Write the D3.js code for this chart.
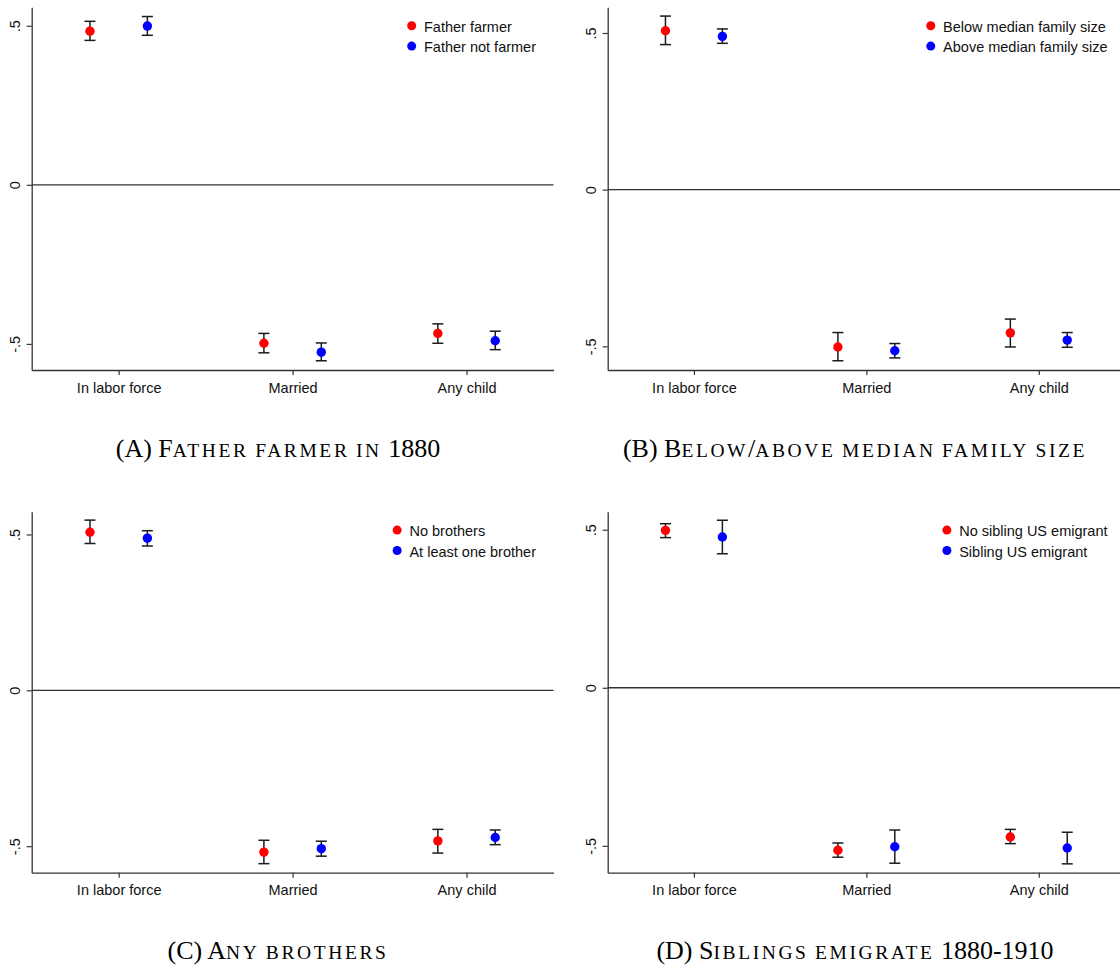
<!DOCTYPE html>
<html>
<head>
<meta charset="utf-8">
<script src="https://cdn.jsdelivr.net/npm/d3@7"></script>
<style>
  html, body { margin: 0; padding: 0; background: #fff; }
  svg { display: block; }
</style>
</head>
<body>
<svg id="fig" width="1120" height="966"></svg>
<script>
// Outcomes on the x axis and the y tick marks
const categories = ["In labor force", "Married", "Any child"];
const yTickValues = [-0.5, 0, 0.5];
const yTickLabels = ["-.5", "0", ".5"];

// Each row: [estimate, lower 95% CI, upper 95% CI] for one outcome
const fatherFarmer    = [[0.483, 0.454, 0.514], [-0.498, -0.528, -0.467], [-0.467, -0.498, -0.437]];
const fatherNotFarmer = [[0.499, 0.470, 0.529], [-0.526, -0.553, -0.497], [-0.490, -0.518, -0.460]];
const belowMedianSize = [[0.507, 0.463, 0.554], [-0.502, -0.546, -0.456], [-0.457, -0.502, -0.413]];
const aboveMedianSize = [[0.489, 0.467, 0.513], [-0.514, -0.537, -0.491], [-0.480, -0.503, -0.456]];
const noBrothers      = [[0.507, 0.471, 0.546], [-0.519, -0.556, -0.481], [-0.483, -0.522, -0.446]];
const anyBrother      = [[0.488, 0.463, 0.512], [-0.508, -0.532, -0.484], [-0.472, -0.495, -0.448]];
const noSiblingUS     = [[0.498, 0.475, 0.519], [-0.514, -0.536, -0.491], [-0.472, -0.493, -0.448]];
const siblingUS       = [[0.477, 0.424, 0.530], [-0.503, -0.555, -0.450], [-0.507, -0.557, -0.457]];

// Legend entries per panel
const legendA = ["Father farmer", "Father not farmer"];
const legendB = ["Below median family size", "Above median family size"];
const legendC = ["No brothers", "At least one brother"];
const legendD = ["No sibling US emigrant", "Sibling US emigrant"];

// Panel captions
const captions = [
  "(A) Father farmer in 1880",
  "(B) Below/above median family size",
  "(C) Any brothers",
  "(D) Siblings emigrate 1880-1910"
];

// y-axis ranges of each panel
const yRangeA = [-0.582, 0.558];
const yRangeB = [-0.5755, 0.582];
const yRangeC = [-0.585, 0.573];
const yRangeD = [-0.585, 0.557];

const seriesColors = ["#ff0000", "#0000ff"];
const axisColor = "#333333";
const barColor = "#1c1c1c";
const sansFont = "'Liberation Sans', Arial, Helvetica, sans-serif";
const serifFont = "'Liberation Serif', 'Times New Roman', Times, serif";

const svg = d3.select("#fig");

const panelDefs = [
  { series: [fatherFarmer, fatherNotFarmer], legend: legendA, yRange: yRangeA, caption: captions[0],
    box: { left: 31.7, right: 553.5, top: 7.3, bottom: 370 }, capX: 278, capY: 457 },
  { series: [belowMedianSize, aboveMedianSize], legend: legendB, yRange: yRangeB, caption: captions[1],
    box: { left: 607.7, right: 1125, top: 7.3, bottom: 370 }, capX: 855, capY: 457 },
  { series: [noBrothers, anyBrother], legend: legendC, yRange: yRangeC, caption: captions[2],
    box: { left: 31.7, right: 553.5, top: 511.7, bottom: 872.7 }, capX: 278, capY: 959 },
  { series: [noSiblingUS, siblingUS], legend: legendD, yRange: yRangeD, caption: captions[3],
    box: { left: 607.7, right: 1125, top: 511.7, bottom: 872.7 }, capX: 855, capY: 959 }
];

function drawPanel(p) {
  const g = svg.append("g");
  const b = p.box;

  const x = d3.scalePoint().domain(categories).range([b.left, b.right]).padding(0.5);
  const y = d3.scaleLinear().domain(p.yRange).range([b.bottom, b.top]);
  const offset = x.step() * 0.165;

  // Reference line at zero
  g.append("line")
    .attr("x1", b.left).attr("x2", b.right)
    .attr("y1", y(0)).attr("y2", y(0))
    .attr("stroke", axisColor).attr("stroke-width", 1.3);

  // y axis
  const yAxis = g.append("g")
    .attr("transform", `translate(${b.left},0)`)
    .call(d3.axisLeft(y)
      .tickValues(yTickValues)
      .tickFormat((d, i) => yTickLabels[i])
      .tickSize(5)
      .tickSizeOuter(0));
  yAxis.select(".domain").attr("stroke", axisColor).attr("stroke-width", 1.3);
  yAxis.selectAll(".tick line").attr("stroke", axisColor).attr("stroke-width", 1.2);
  yAxis.selectAll(".tick text")
    .attr("x", 0).attr("dy", 0)
    .attr("text-anchor", "middle")
    .attr("transform", "translate(-11.5,0) rotate(-90)")
    .attr("font-family", sansFont).attr("font-size", 14.5).attr("fill", "#111");

  // x axis
  const xAxis = g.append("g")
    .attr("transform", `translate(0,${b.bottom})`)
    .call(d3.axisBottom(x).tickSize(5).tickSizeOuter(0));
  xAxis.select(".domain").attr("stroke", axisColor).attr("stroke-width", 1.3);
  xAxis.selectAll(".tick line").attr("stroke", axisColor).attr("stroke-width", 1.2);
  xAxis.selectAll(".tick text")
    .attr("y", 22.5).attr("dy", 0)
    .attr("font-family", sansFont).attr("font-size", 14.5).attr("fill", "#111");

  // Confidence intervals (capped spikes) and point estimates
  p.series.forEach((rows, j) => {
    const dx = j === 0 ? -offset : offset;
    const pts = rows.map((r, i) => ({ cx: x(categories[i]) + dx, est: r[0], lo: r[1], hi: r[2] }));
    const bars = g.append("g").attr("stroke", barColor).attr("stroke-width", 1.5).attr("fill", "none");
    pts.forEach(d => {
      bars.append("line").attr("x1", d.cx).attr("x2", d.cx).attr("y1", y(d.lo)).attr("y2", y(d.hi));
      bars.append("line").attr("x1", d.cx - 5.5).attr("x2", d.cx + 5.5).attr("y1", y(d.lo)).attr("y2", y(d.lo));
      bars.append("line").attr("x1", d.cx - 5.5).attr("x2", d.cx + 5.5).attr("y1", y(d.hi)).attr("y2", y(d.hi));
    });
    g.append("g").selectAll("circle").data(pts).join("circle")
      .attr("cx", d => d.cx).attr("cy", d => y(d.est)).attr("r", 4.7)
      .attr("fill", seriesColors[j]);
  });

  // Legend in the upper-right corner
  const lg = g.append("g");
  const texts = p.legend.map((label, j) =>
    lg.append("text").text(label)
      .attr("font-family", sansFont).attr("font-size", 14.5).attr("fill", "#111")
      .attr("y", b.top + 18.4 + j * 20.4 + 6));
  const maxW = d3.max(texts, t => t.node().getComputedTextLength());
  const tx = Math.min(b.right, 1125) - 17.5 - maxW;
  texts.forEach(t => t.attr("x", tx));
  p.legend.forEach((label, j) => {
    lg.append("circle").attr("cx", tx - 12.3).attr("cy", b.top + 18.4 + j * 20.4)
      .attr("r", 4.5).attr("fill", seriesColors[j]);
  });

  drawCaption(p.caption, p.capX, p.capY);
}

// Caption in small capitals: lowercase letters are set as smaller capitals
function drawCaption(str, cx, cy) {
  const t = svg.append("text")
    .attr("x", cx).attr("y", cy)
    .attr("text-anchor", "middle")
    .attr("font-family", serifFont).attr("font-size", 26).attr("fill", "#000");
  const runs = [];
  for (const ch of str) {
    const small = /[a-z]/.test(ch);
    const last = runs[runs.length - 1];
    if (last && last.small === small) last.s += ch;
    else runs.push({ small, s: ch });
  }
  runs.forEach(r => {
    const ts = t.append("tspan").text(r.small ? r.s.toUpperCase() : r.s);
    if (r.small) ts.attr("font-size", 19.5).attr("letter-spacing", 2.6);
  });
}

panelDefs.forEach(drawPanel);
</script>
</body>
</html>
